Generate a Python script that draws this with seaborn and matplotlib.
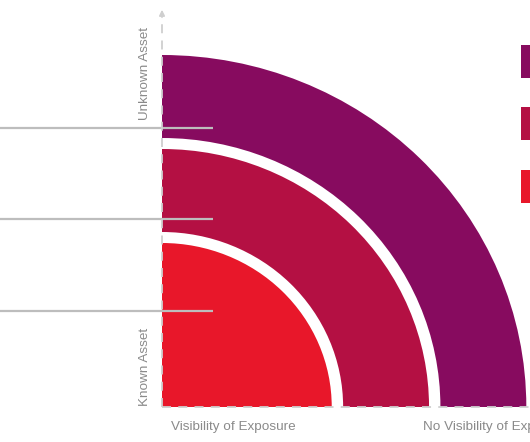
import numpy as np
import matplotlib
matplotlib.use("Agg")
import matplotlib.pyplot as plt
from matplotlib.patches import Wedge, Rectangle
import seaborn as sns

# rings, innermost first
rings = ["Known / visible", "Partly known", "Unknown / not visible"]
ring_colors = ["#E8172A", "#B41043", "#870B5F"]
outer_r = [164, 258, 352]
inner_r = [0, 175, 269]

y_label_top = "Unknown Asset"
y_label_bottom = "Known Asset"
x_label_left = "Visibility of Exposure"
x_label_right = "No Visibility of Exposure"

sns.set_theme(style="white")
plt.rcParams['font.family'] = ['Liberation Sans', 'DejaVu Sans']

fig = plt.figure(figsize=(5.3, 4.42), dpi=100)
ax = fig.add_axes([0, 0, 1, 1])
sx = 1.035  # rings are a touch wider than tall
ax.set_xlim(-162 / sx, 368 / sx)
ax.set_ylim(-35, 407)
ax.axis('off')

for name, col, ro, ri in zip(rings, ring_colors, outer_r, inner_r):
    ax.add_patch(Wedge((0, 0), ro, 0, 90, width=ro - ri, facecolor=col,
                       edgecolor='none', zorder=2))

# dashed axes drawn over the rings
axis_col = '#cfcfcf'
ax.plot([0, 0], [0, 390], color=axis_col, lw=1.3, ls=(0, (5, 4)), zorder=4)
ax.annotate('', xy=(0, 400), xytext=(0, 387),
            arrowprops=dict(arrowstyle='-|>', color=axis_col, lw=1.2,
                            mutation_scale=8), zorder=4)
ax.plot([0, 400], [0, 0], color=axis_col, lw=1.3, ls=(0, (5, 4)), zorder=4)

# leader lines from the left
for yy in [279, 188, 96]:
    ax.plot([-170, 49], [yy, yy], color='#bdbdbd', lw=1.6, zorder=3,
            solid_capstyle='butt')

# legend swatches on the right edge (cut by the frame)
for col, top in zip(ring_colors[::-1], [362, 300, 237]):
    ax.add_patch(Rectangle((347, top - 33), 30, 33, facecolor=col,
                           edgecolor='none', zorder=2, clip_on=False))

txt_col = '#8a8a8a'
fs = 9.7
ax.text(-17 / sx, 334, y_label_top, rotation=90, ha='center', va='center',
        color=txt_col, fontsize=fs)
ax.text(-17 / sx, 40, y_label_bottom, rotation=90, ha='center', va='center',
        color=txt_col, fontsize=fs)
ax.text(9 / sx, -20, x_label_left, ha='left', va='center',
        color=txt_col, fontsize=fs)
ax.text(261 / sx, -20, x_label_right, ha='left', va='center',
        color=txt_col, fontsize=fs, clip_on=False)

fig.savefig('out.png', dpi=100)
